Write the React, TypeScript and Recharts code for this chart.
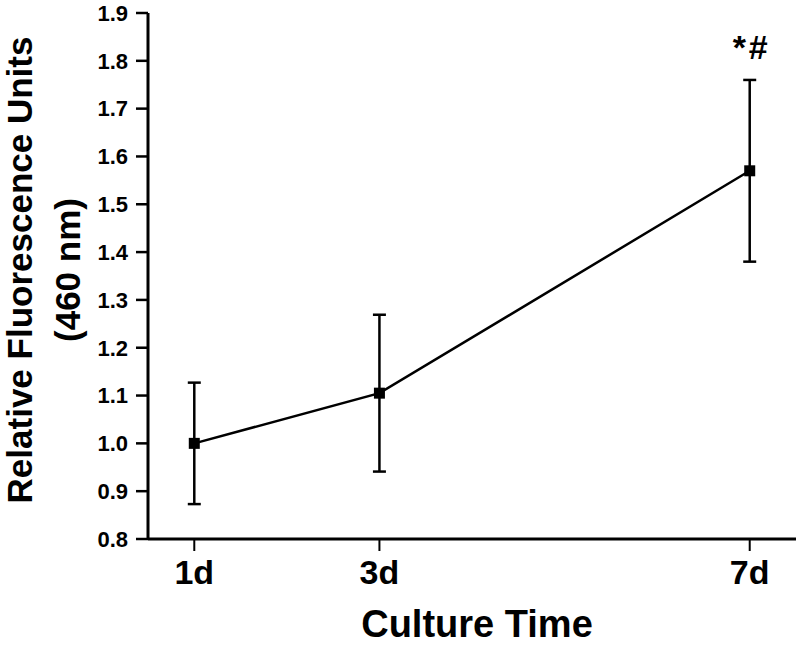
import React from 'react';
import { ComposedChart, Line, XAxis, YAxis, ErrorBar, ReferenceDot, Label } from 'recharts';

const days = [1, 3, 7];
const dayLabels = ['1d', '3d', '7d'];
const means = [1.0, 1.105, 1.57];
const errors = [0.127, 0.164, 0.19];
const yTicks = [0.8, 0.9, 1.0, 1.1, 1.2, 1.3, 1.4, 1.5, 1.6, 1.7, 1.8, 1.9];
const annotations = ['', '', '*#'];

const data = days.map((d, i) => ({ day: d, mean: means[i], err: errors[i] }));

const FONT = '"Liberation Sans", Arial, Helvetica, sans-serif';

const SquareDot = (props: any) => {
  const { cx, cy } = props;
  if (cx == null || cy == null) return null;
  return <rect x={cx - 5.5} y={cy - 5.5} width={11} height={11} fill="#000" />;
};

const YLabel = (props: any) => {
  const vb = props.viewBox || {};
  const cy = (vb.y ?? 13) + (vb.height ?? 526) / 2 - 6;
  return (
    <g fontFamily={FONT} fontWeight="bold" fontSize={35} fill="#000">
      <text x={32} y={cy} textAnchor="middle" transform={`rotate(-90, 32, ${cy})`}>Relative Fluorescence Units</text>
      <text x={80} y={cy} textAnchor="middle" transform={`rotate(-90, 80, ${cy})`}>(460 nm)</text>
    </g>
  );
};

const XLabel = (props: any) => {
  const vb = props.viewBox || {};
  const cx = (vb.x ?? 148) + (vb.width ?? 648) / 2 + 5;
  return (
    <text x={cx} y={637} textAnchor="middle" fontFamily={FONT} fontWeight="bold" fontSize={38} fill="#000">
      Culture Time
    </text>
  );
};

const annIndex = annotations.findIndex((a) => a !== '');

export default function App() {
  return (
    <div style={{ position: 'absolute', left: 0, top: 0, width: 800, height: 646, background: '#fff' }}>
      <ComposedChart width={800} height={646} data={data} margin={{ top: 13, right: 4, bottom: 0, left: 0 }}>
        <XAxis
          dataKey="day"
          type="number"
          domain={[0.5, 7.5]}
          ticks={days}
          tickFormatter={(v: number) => dayLabels[days.indexOf(v)] ?? ''}
          height={107}
          axisLine={{ stroke: '#000', strokeWidth: 3 }}
          tickSize={12}
          tickMargin={9}
          tick={{ fontSize: 34, fontWeight: 'bold', fill: '#000', fontFamily: FONT }}
          tickLine={{ stroke: '#000', strokeWidth: 2 }}
          allowDataOverflow
        >
          <Label content={<XLabel />} />
        </XAxis>
        <YAxis
          type="number"
          domain={[0.8, 1.9]}
          ticks={yTicks}
          interval={0}
          tickFormatter={(v: number) => v.toFixed(1)}
          width={148}
          axisLine={{ stroke: '#000', strokeWidth: 3 }}
          tickSize={12}
          tickMargin={8}
          tick={{ fontSize: 22, fontWeight: 'bold', fill: '#000', fontFamily: FONT }}
          tickLine={{ stroke: '#000', strokeWidth: 2.5 }}
          allowDataOverflow
        >
          <Label content={<YLabel />} />
        </YAxis>
        <Line
          type="linear"
          dataKey="mean"
          stroke="#000"
          strokeWidth={2.5}
          dot={<SquareDot />}
          activeDot={false}
          isAnimationActive={false}
        >
          <ErrorBar dataKey="err" direction="y" width={6.5} stroke="#000" strokeWidth={2.5} isAnimationActive={false} />
        </Line>
        {annIndex >= 0 && (
          <ReferenceDot
            x={days[annIndex]}
            y={means[annIndex] + errors[annIndex]}
            r={1}
            fill="none"
            stroke="none"
            label={(p: any) => {
              const vb = p.viewBox || {};
              const x = (vb.x ?? 0) + (vb.width ?? 0) / 2 + 2;
              const y = (vb.y ?? 0) + (vb.height ?? 0) / 2 - 21;
              return (
                <text x={x} y={y} textAnchor="middle" fontFamily={FONT} fontSize={34} fontWeight="bold" letterSpacing={3} fill="#000">
                  {annotations[annIndex]}
                </text>
              );
            }}
          />
        )}
      </ComposedChart>
    </div>
  );
}
